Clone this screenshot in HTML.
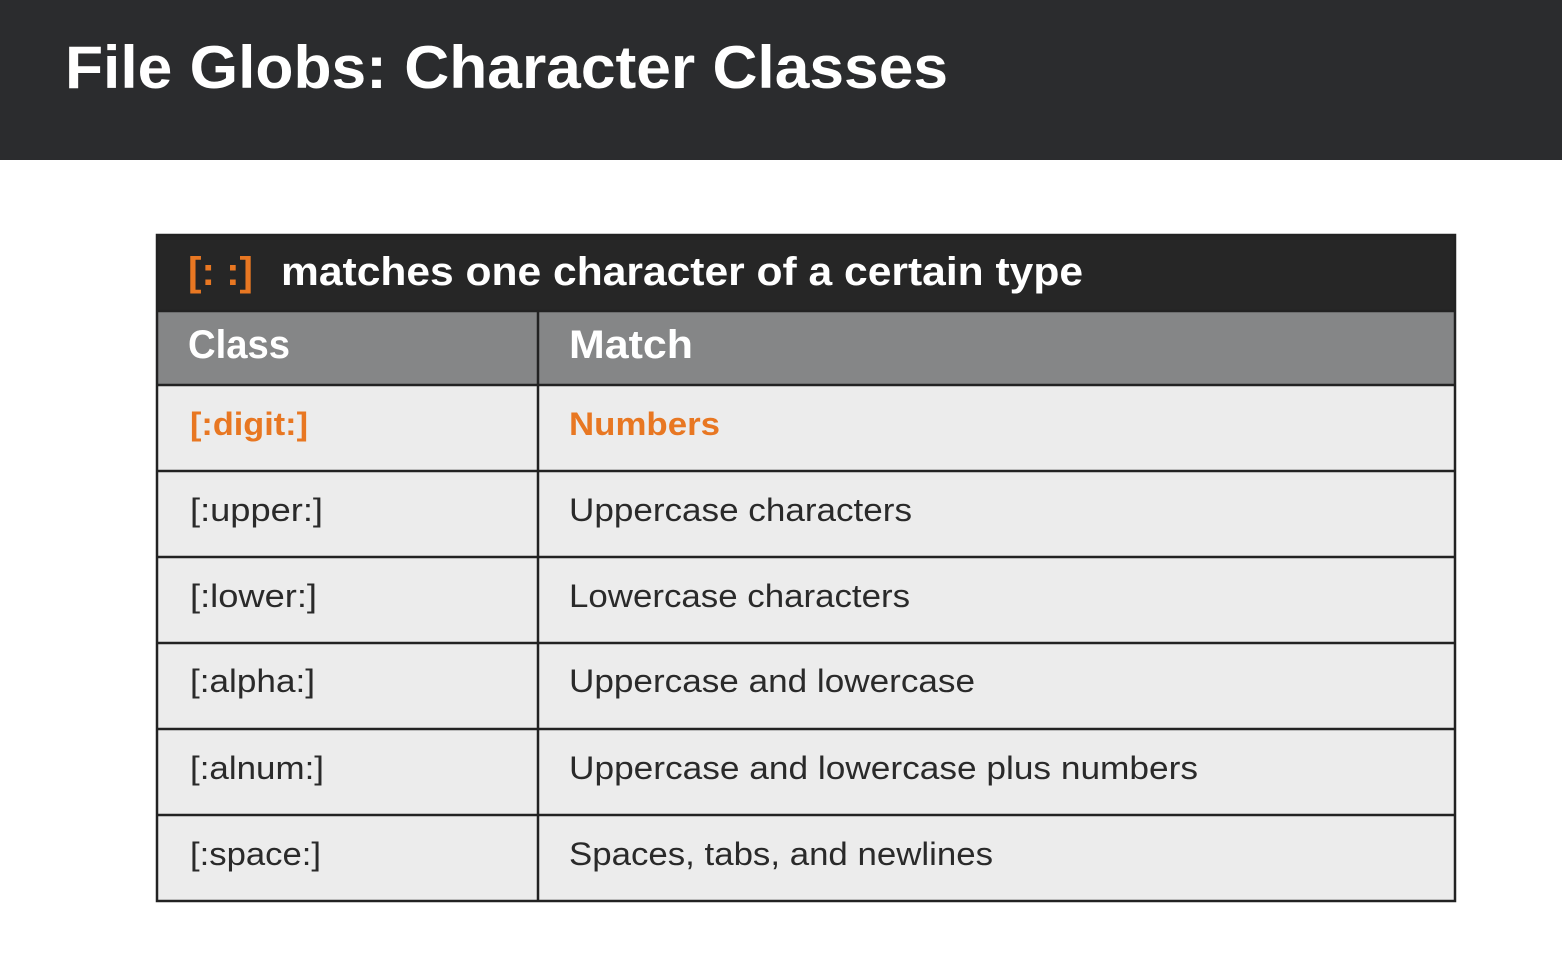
<!DOCTYPE html>
<html><head><meta charset="utf-8"><style>
html,body{margin:0;padding:0;background:#fff;}
svg{display:block}
text{font-family:"Liberation Sans",sans-serif;}
</style></head><body>
<svg width="1562" height="961" viewBox="0 0 1562 961" xmlns="http://www.w3.org/2000/svg">
<rect x="0" y="0" width="1562" height="160" fill="#2b2c2e"/>
<text x="65" y="88" font-size="60" font-weight="bold" fill="#fff" textLength="883" lengthAdjust="spacingAndGlyphs">File Globs: Character Classes</text>

<rect x="156" y="234" width="1300" height="77" fill="#262626"/>
<rect x="156" y="311" width="1300" height="74" fill="#858687"/>
<rect x="156" y="385" width="1300" height="516" fill="#ececec"/>
<g stroke="#222" stroke-width="2.5" fill="none">
<rect x="157" y="235" width="1298" height="666"/>
<line x1="156" y1="311" x2="1456" y2="311"/>
<line x1="156" y1="385" x2="1456" y2="385"/>
<line x1="156" y1="471" x2="1456" y2="471"/>
<line x1="156" y1="557" x2="1456" y2="557"/>
<line x1="156" y1="643" x2="1456" y2="643"/>
<line x1="156" y1="729" x2="1456" y2="729"/>
<line x1="156" y1="815" x2="1456" y2="815"/>
<line x1="538" y1="311" x2="538" y2="901"/>
</g>

<text x="188" y="285" font-size="40" font-weight="bold" fill="#e87722" textLength="65" lengthAdjust="spacingAndGlyphs">[: :]</text>
<text x="281" y="285" font-size="40" font-weight="bold" fill="#fff" textLength="802" lengthAdjust="spacingAndGlyphs">matches one character of a certain type</text>

<text x="188" y="358" font-size="40" font-weight="bold" fill="#fff" textLength="102" lengthAdjust="spacingAndGlyphs">Class</text>
<text x="569" y="358" font-size="40" font-weight="bold" fill="#fff" textLength="124" lengthAdjust="spacingAndGlyphs">Match</text>

<g font-size="32" fill="#2a2a2a">
<text x="190" y="435" font-weight="bold" fill="#e87722" textLength="118" lengthAdjust="spacingAndGlyphs">[:digit:]</text>
<text x="569" y="435" font-weight="bold" fill="#e87722" textLength="151" lengthAdjust="spacingAndGlyphs">Numbers</text>
<text x="190" y="521" textLength="133" lengthAdjust="spacingAndGlyphs">[:upper:]</text>
<text x="569" y="521" textLength="343" lengthAdjust="spacingAndGlyphs">Uppercase characters</text>
<text x="190" y="607" textLength="127" lengthAdjust="spacingAndGlyphs">[:lower:]</text>
<text x="569" y="607" textLength="341" lengthAdjust="spacingAndGlyphs">Lowercase characters</text>
<text x="190" y="692" textLength="125" lengthAdjust="spacingAndGlyphs">[:alpha:]</text>
<text x="569" y="692" textLength="406" lengthAdjust="spacingAndGlyphs">Uppercase and lowercase</text>
<text x="190" y="779" textLength="134" lengthAdjust="spacingAndGlyphs">[:alnum:]</text>
<text x="569" y="779" textLength="629" lengthAdjust="spacingAndGlyphs">Uppercase and lowercase plus numbers</text>
<text x="190" y="865" textLength="131" lengthAdjust="spacingAndGlyphs">[:space:]</text>
<text x="569" y="865" textLength="424" lengthAdjust="spacingAndGlyphs">Spaces, tabs, and newlines</text>
</g>
</svg>
</body></html>
